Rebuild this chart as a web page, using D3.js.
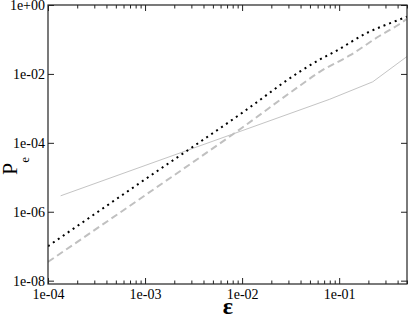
<!DOCTYPE html>
<html>
<head>
<meta charset="utf-8">
<script src="https://cdn.jsdelivr.net/npm/d3@7"></script>
<style>
  body { margin: 0; background: #fff; }
  svg { display: block; }
</style>
</head>
<body>
<svg id="chart" width="409" height="316"></svg>
<script>
// values
var epsDotted = [1e-4, 1e-3, 1e-2, 4e-2, 6.3e-2, 9e-2, 0.19, 0.39, 0.5];
var pDotted   = [1.0e-7, 8.7e-6, 7.4e-4, 1.2e-2, 2.6e-2, 4.4e-2, 0.151, 0.35, 0.457];

var epsDashed = [1e-4, 1e-3, 1e-2, 4e-2, 6.3e-2, 0.13, 0.26, 0.42, 0.5];
var pDashed   = [3.5e-8, 3.0e-6, 2.75e-4, 4.7e-3, 1.15e-2, 3.5e-2, 0.126, 0.281, 0.40];

var epsThin = [1.35e-4, 1e-3, 1e-2, 0.08, 0.222, 0.5];
var pThin   = [2.9e-6, 2.2e-5, 2.25e-4, 1.84e-3, 5.9e-3, 3.2e-2];

var xMajor = [1e-4, 1e-3, 1e-2, 1e-1];
var yMajor = [1e0, 1e-2, 1e-4, 1e-6, 1e-8];

var margin = { left: 48, right: 2, top: 5, bottom: 32 },
    W = 409, H = 316,
    tickFont = "14px 'Liberation Serif', 'Times New Roman', serif";

var svg = d3.select("#chart");

var x = d3.scaleLog().domain([1e-4, 0.5]).range([margin.left, W - margin.right]),
    y = d3.scaleLog().domain([8e-9, 1]).range([H - margin.bottom, margin.top]);

// minor ticks on x: 2..9 per decade
var xMinor = [];
xMajor.forEach(function (d) {
    for (var k = 2; k <= 9; k++) {
        var v = d * k;
        if (v <= 0.5 + 1e-9) xMinor.push(v);
    }
});

var fmtExp = function (d) {
    var e = Math.round(Math.log10(d));
    return "1e" + (e < 0 ? "-" : "+") + String(Math.abs(e)).padStart(2, "0");
};

var pw = W - margin.right - margin.left,
    ph = H - margin.bottom - margin.top;

svg.append("defs").append("clipPath").attr("id", "plotclip")
    .append("rect")
    .attr("x", margin.left).attr("y", margin.top)
    .attr("width", pw).attr("height", ph);

// curves
var line = d3.line()
    .x(function (d) { return x(d[0]); })
    .y(function (d) { return y(d[1]); });

var plot = svg.append("g").attr("clip-path", "url(#plotclip)");

plot.append("path")
    .datum(d3.zip(epsThin, pThin))
    .attr("fill", "none")
    .attr("stroke", "#c4c4c4")
    .attr("stroke-width", 1)
    .attr("d", line);

plot.append("path")
    .datum(d3.zip(epsDashed, pDashed))
    .attr("fill", "none")
    .attr("stroke", "#c0c0c0")
    .attr("stroke-width", 2)
    .attr("stroke-dasharray", "7,4")
    .attr("d", line.curve(d3.curveMonotoneX));

plot.append("path")
    .datum(d3.zip(epsDotted, pDotted))
    .attr("fill", "none")
    .attr("stroke", "#000")
    .attr("stroke-width", 2)
    .attr("stroke-dasharray", "2,4")
    .attr("d", line.curve(d3.curveMonotoneX));

// axes (ticks pointing inward)
var styleAxis = function (g) {
    g.select(".domain").remove();
    g.selectAll("line").attr("stroke", "#222");
    g.selectAll("text").style("font", tickFont).attr("fill", "#000");
};

svg.append("g")
    .attr("transform", "translate(0," + (H - margin.bottom) + ")")
    .call(d3.axisBottom(x).tickValues(xMinor).tickSize(-3.5).tickFormat(""))
    .call(styleAxis);
svg.append("g")
    .attr("transform", "translate(0," + (H - margin.bottom) + ")")
    .call(d3.axisBottom(x).tickValues(xMajor).tickSize(-6).tickPadding(5).tickFormat(fmtExp))
    .call(styleAxis);

svg.append("g")
    .attr("transform", "translate(0," + margin.top + ")")
    .call(d3.axisTop(x).tickValues(xMinor).tickSize(-3.5).tickFormat(""))
    .call(styleAxis);
svg.append("g")
    .attr("transform", "translate(0," + margin.top + ")")
    .call(d3.axisTop(x).tickValues(xMajor).tickSize(-6).tickFormat(""))
    .call(styleAxis);

svg.append("g")
    .attr("transform", "translate(" + margin.left + ",0)")
    .call(d3.axisLeft(y).tickValues(yMajor).tickSize(-6).tickPadding(3).tickFormat(fmtExp))
    .call(styleAxis);
svg.append("g")
    .attr("transform", "translate(" + (W - margin.right) + ",0)")
    .call(d3.axisRight(y).tickValues(yMajor).tickSize(-6).tickFormat(""))
    .call(styleAxis);

// frame
svg.append("rect")
    .attr("x", margin.left).attr("y", margin.top)
    .attr("width", pw).attr("height", ph)
    .attr("fill", "none")
    .attr("stroke", "#222")
    .attr("stroke-width", 1.2);

// axis titles
var yl = svg.append("text")
    .attr("transform", "translate(17,166) rotate(-90)")
    .attr("text-anchor", "middle")
    .style("font-family", "'Liberation Serif', 'Times New Roman', serif")
    .attr("fill", "#000");
yl.append("tspan").style("font-size", "22px").text("P");
yl.append("tspan").style("font-size", "13px").attr("dy", 12).text("e");

svg.append("text")
    .attr("x", 228).attr("y", 314)
    .attr("text-anchor", "middle")
    .style("font", "bold 24px 'Liberation Serif', 'Times New Roman', serif")
    .attr("fill", "#000")
    .text("ε");
</script>
</body>
</html>
